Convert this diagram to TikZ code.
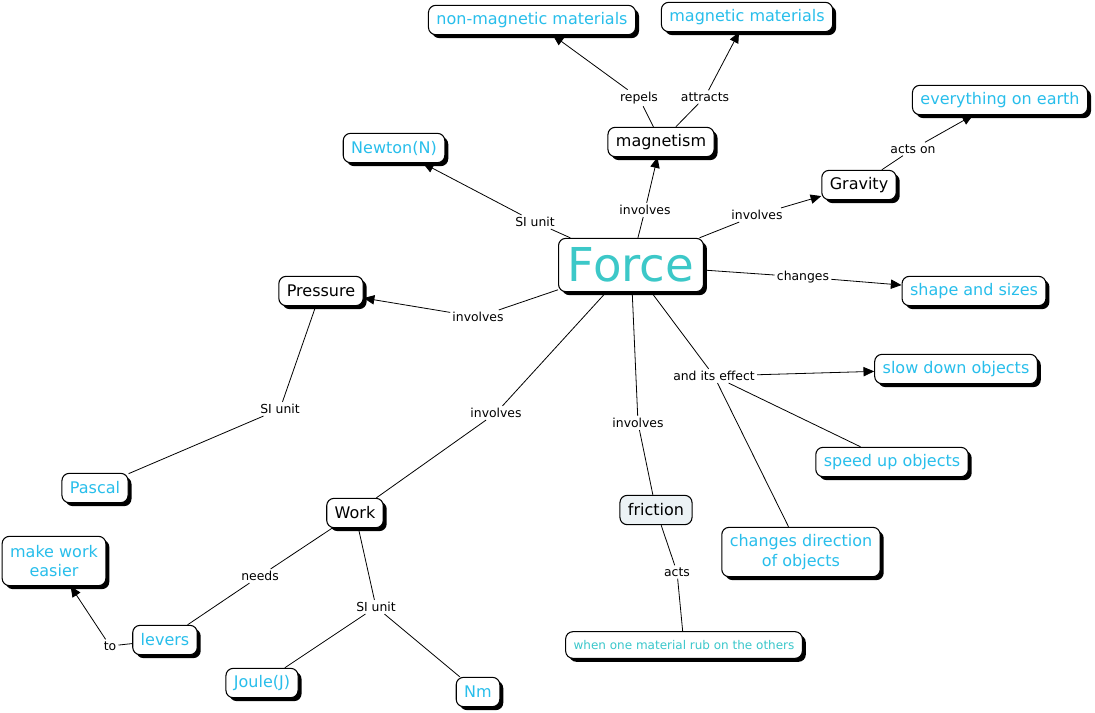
\documentclass[tikz,border=0pt]{standalone}
\usepackage{fontspec}
\setmainfont{DejaVu Sans}
\usetikzlibrary{arrows.meta, shadows}

\definecolor{conceptblue}{RGB}{40,190,235}
\definecolor{forceteal}{RGB}{60,200,200}
\definecolor{frictionfill}{RGB}{236,242,245}

\begin{document}
\begin{tikzpicture}[
  x=0.75pt, y=-0.75pt,
  flatbox/.style={rectangle, draw, thick, rounded corners=5.5pt, fill=white, align=center,
    inner xsep=6pt, inner ysep=3pt, minimum height=22pt, font=\fontsize{12}{14.5}\selectfont},
  concept/.style={flatbox, general shadow={fill=black, shadow xshift=2.6pt, shadow yshift=-2.6pt}},
  term/.style={concept, text=conceptblue},
  linkword/.style={inner sep=1.5pt, font=\fontsize{9.3}{11}\selectfont},
  arrow/.style={-{Triangle[length=8pt, width=7pt]}, semithick},
  line/.style={semithick}
]
\useasboundingbox (0,0) rectangle (1095,713);

% Concepts
\node (force) [concept, text=forceteal, font=\fontsize{35}{40}\selectfont, inner xsep=7pt, minimum height=40pt] at (631,265) {Force};
\node (magnetism) [concept] at (661,142) {magnetism};
\node (nonmag) [term] at (532,20) {non-magnetic materials};
\node (mag) [term] at (747,17) {magnetic materials};
\node (newton) [term] at (394,148) {Newton(N)};
\node (gravity) [concept] at (859,185) {Gravity};
\node (earth) [term] at (1000,100) {everything on earth};
\node (shape) [term] at (974,291) {shape and sizes};
\node (pressure) [concept] at (321,291) {Pressure};
\node (slow) [term] at (956,369) {slow down objects};
\node (speed) [term] at (892,462) {speed up objects};
\node (direction) [term, minimum height=37pt] at (801,552) {changes direction\\of objects};
\node (pascal) [term] at (95,488) {Pascal};
\node (work) [concept] at (355,513) {Work};
\node (friction) [flatbox, fill=frictionfill] at (656,510) {friction};
\node (rub) [term, font=\fontsize{9}{11}\selectfont, text=forceteal!90!conceptblue, minimum height=20pt] at (684,645) {when one material rub on the others};
\node (easier) [term, minimum height=37pt] at (54,561) {make work\\easier};
\node (levers) [term] at (165,640) {levers};
\node (joule) [term] at (262,683) {Joule(J)};
\node (nm) [term] at (478,692) {Nm};

% Linking words
\node (l-involves1) [linkword] at (645,210) {involves};
\node (l-repels) [linkword] at (639,98) {repels};
\node (l-attracts) [linkword] at (705,97) {attracts};
\node (l-siunit1) [linkword] at (535,222) {SI unit};
\node (l-involves2) [linkword] at (757,215) {involves};
\node (l-actson) [linkword] at (913,149) {acts on};
\node (l-changes) [linkword] at (803,277) {changes};
\node (l-involves3) [linkword] at (478,317) {involves};
\node (l-siunit2) [linkword] at (280,409) {SI unit};
\node (l-involves4) [linkword] at (496,413) {involves};
\node (l-involves5) [linkword] at (638,423) {involves};
\node (l-effect) [linkword] at (714,376) {and its effect};
\node (l-acts) [linkword] at (677,572) {acts};
\node (l-needs) [linkword] at (260,576) {needs};
\node (l-siunit3) [linkword] at (376,607) {SI unit};
\node (l-to) [linkword] at (110,646) {to};

% Links
\draw [line] (force) -- (l-involves1);
\draw [arrow] (l-involves1) -- (magnetism);
\draw [line] (magnetism) -- (l-repels);
\draw [arrow] (l-repels) -- (nonmag);
\draw [line] (magnetism) -- (l-attracts);
\draw [arrow] (l-attracts) -- (mag);
\draw [line] (force) -- (l-siunit1);
\draw [arrow] (l-siunit1) -- (newton);
\draw [line] (force) -- (l-involves2);
\draw [arrow] (l-involves2) -- (gravity);
\draw [line] (gravity) -- (l-actson);
\draw [arrow] (l-actson) -- (earth);
\draw [line] (force) -- (l-changes);
\draw [arrow] (l-changes) -- (shape);
\draw [line] (force) -- (l-involves3);
\draw [arrow] (l-involves3) -- (pressure);
\draw [line] (pressure) -- (l-siunit2);
\draw [line] (l-siunit2) -- (pascal);
\draw [line] (force) -- (l-involves4);
\draw [line] (l-involves4) -- (work);
\draw [line] (force) -- (l-involves5);
\draw [line] (l-involves5) -- (friction);
\draw [line] (force) -- (l-effect);
\draw [arrow] (l-effect) -- (slow);
\draw [line] (l-effect) -- (speed);
\draw [line] (l-effect) -- (direction);
\draw [line] (friction) -- (l-acts);
\draw [line] (l-acts) -- (rub);
\draw [line] (work) -- (l-needs);
\draw [line] (l-needs) -- (levers);
\draw [line] (levers) -- (l-to);
\draw [arrow] (l-to) -- (easier);
\draw [line] (work) -- (l-siunit3);
\draw [line] (l-siunit3) -- (joule);
\draw [line] (l-siunit3) -- (nm);

\end{tikzpicture}
\end{document}
